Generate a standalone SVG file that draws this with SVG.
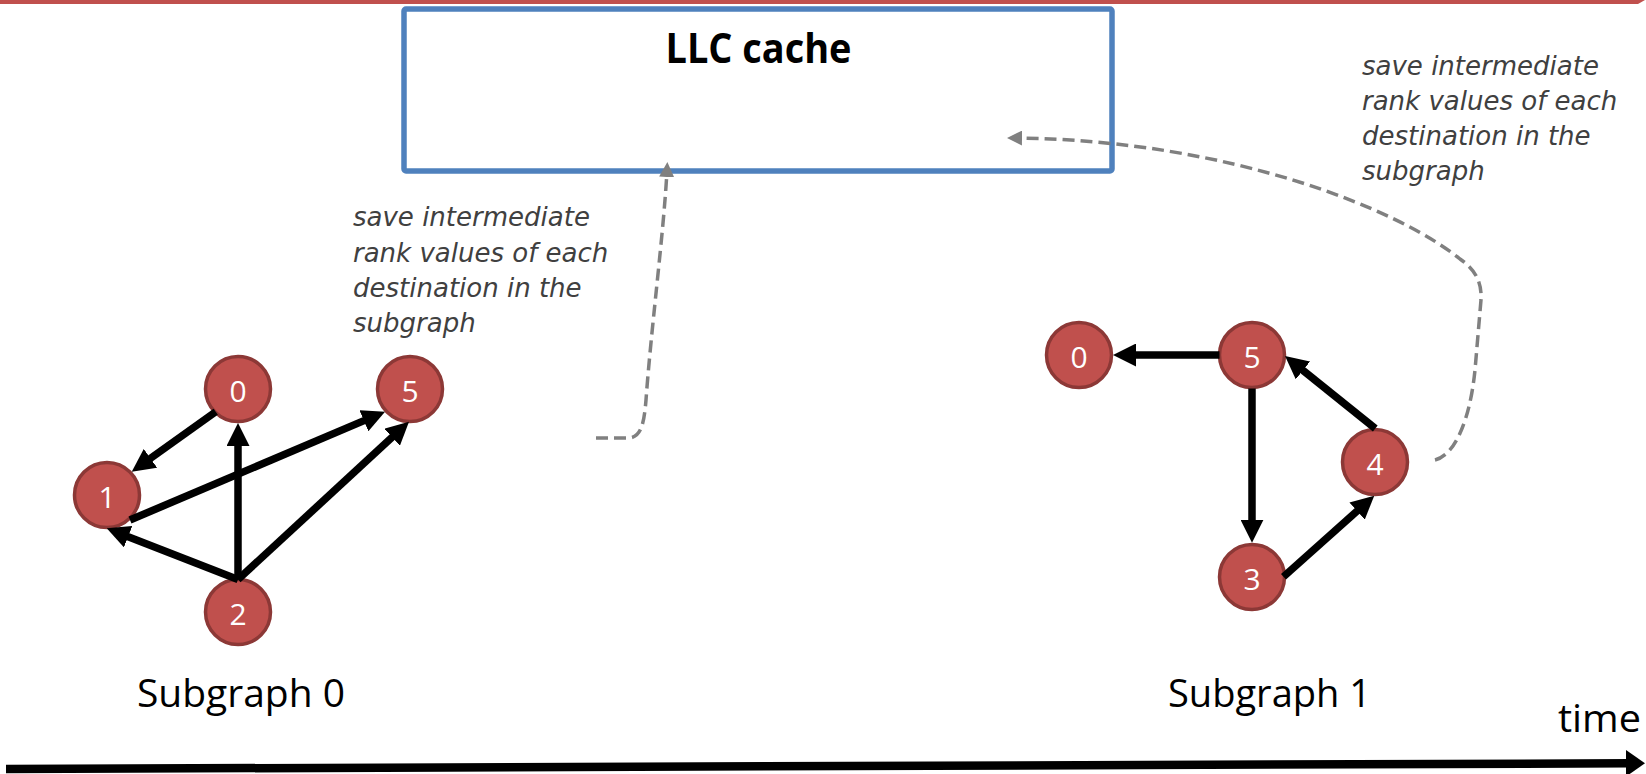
<svg xmlns="http://www.w3.org/2000/svg" width="1646" height="774" viewBox="0 0 1646 774">
  <style>
    .node circle { fill: #C0504D; stroke: #8C3836; stroke-width: 3.5; }
    .node text { fill: #FFFFFF; font-family: 'Open Sans', 'Liberation Sans', sans-serif; font-size: 30px; text-anchor: middle; }
    .edge { fill: none; stroke: #000000; stroke-width: 7.5; stroke-linecap: butt; marker-end: url(#headBlack); }
    .flow { fill: none; stroke: #808080; stroke-width: 3.5; stroke-dasharray: 12 6; marker-end: url(#headGray); }
    .note { fill: #404040; font-family: 'DejaVu Sans', sans-serif; font-style: italic; font-size: 26px; }
    .caption { fill: #000000; font-family: 'Open Sans', 'Liberation Sans', sans-serif; font-size: 38px; }
  </style>
  <defs>
    <marker id="headBlack" markerUnits="userSpaceOnUse" viewBox="0 0 23 23" markerWidth="23" markerHeight="23" refX="11" refY="11.5" orient="auto">
      <path d="M0,0 L23,11.5 L0,23 Z" fill="#000000"/>
    </marker>
    <marker id="headGray" markerUnits="userSpaceOnUse" viewBox="0 0 15 15" markerWidth="15" markerHeight="15" refX="7" refY="7.5" orient="auto">
      <path d="M0,0 L15,7.5 L0,15 Z" fill="#808080"/>
    </marker>
  </defs>

  <rect width="1646" height="774" fill="#FFFFFF"/>

  <!-- top accent bar -->
  <polygon points="0,0 1645,0 1638,4 0,4" fill="#C0504D"/>

  <!-- cache box -->
  <g id="llc-cache">
    <rect x="404" y="9" width="708" height="162" rx="2" fill="none" stroke="#4F81BD" stroke-width="5.5"/>
    <text x="758.5" y="63" font-family="'Open Sans', 'Liberation Sans', sans-serif" font-weight="bold" font-size="42" text-anchor="middle" textLength="186" lengthAdjust="spacingAndGlyphs">LLC cache</text>
  </g>

  <!-- annotations -->
  <g id="note-left" class="note">
    <text x="353" y="226">save intermediate</text>
    <text x="353" y="261.5">rank values of each</text>
    <text x="353" y="297">destination in the</text>
    <text x="353" y="332">subgraph</text>
  </g>
  <g id="note-right" class="note">
    <text x="1362" y="75">save intermediate</text>
    <text x="1362" y="110">rank values of each</text>
    <text x="1362" y="145">destination in the</text>
    <text x="1362" y="180">subgraph</text>
  </g>

  <!-- subgraph 0 -->
  <g id="sg0-n0" class="node"><circle cx="238" cy="389" r="32.5"/><text x="238" y="402">0</text></g>
  <g id="sg0-n5" class="node"><circle cx="410" cy="389" r="32.5"/><text x="410" y="402">5</text></g>
  <g id="sg0-n1" class="node"><circle cx="107" cy="495" r="32.5"/><text x="107" y="508">1</text></g>
  <g id="sg0-n2" class="node"><circle cx="238" cy="612" r="32.5"/><text x="238" y="625">2</text></g>

  <!-- subgraph 1 -->
  <g id="sg1-n0" class="node"><circle cx="1079" cy="355" r="32.5"/><text x="1079" y="368">0</text></g>
  <g id="sg1-n5" class="node"><circle cx="1252" cy="355" r="32.5"/><text x="1252" y="368">5</text></g>
  <g id="sg1-n4" class="node"><circle cx="1375" cy="462" r="32.5"/><text x="1375" y="475">4</text></g>
  <g id="sg1-n3" class="node"><circle cx="1252" cy="577" r="32.5"/><text x="1252" y="590">3</text></g>

  <!-- connectors -->
  <g id="connectors">
    <!-- subgraph 0 edges -->
    <line class="edge" x1="215.7" y1="411.7" x2="141.5" y2="464.7"/>
    <line class="edge" x1="130" y1="520" x2="374" y2="416.4"/>
    <line class="edge" x1="238" y1="579.5" x2="117.9" y2="532.7"/>
    <line class="edge" x1="238" y1="579.5" x2="238" y2="435"/>
    <line class="edge" x1="238" y1="579.5" x2="400.2" y2="429.8"/>
    <!-- subgraph 1 edges -->
    <line class="edge" x1="1219.5" y1="355" x2="1125" y2="355"/>
    <line class="edge" x1="1252" y1="388.5" x2="1252" y2="530.7"/>
    <line class="edge" x1="1283.5" y1="576.7" x2="1365.3" y2="503.7"/>
    <line class="edge" x1="1375.3" y1="428.5" x2="1294.4" y2="363.5"/>
    <!-- write-back paths to the cache -->
    <path class="flow" d="M596,438 L628,438 C641,438 644,424 646,400 C651,330 664,230 667,170"/>
    <path class="flow" d="M1435,460 C1455,455 1470,420 1475,370 L1481,300 C1482,283 1476,270 1460,259 C1400,210 1230,140 1015,138"/>
  </g>

  <!-- captions -->
  <text class="caption" x="137" y="707" textLength="208" lengthAdjust="spacingAndGlyphs">Subgraph 0</text>
  <text class="caption" x="1168" y="707" textLength="203" lengthAdjust="spacingAndGlyphs">Subgraph 1</text>
  <text class="caption" x="1558" y="732" textLength="83" lengthAdjust="spacingAndGlyphs">time</text>

  <!-- time axis -->
  <g id="time-axis">
    <line x1="6" y1="769" x2="1630" y2="763.3" stroke="#000000" stroke-width="8.5"/>
    <polygon points="1626,750 1645,763.3 1626,776.6" fill="#000000"/>
  </g>
</svg>
